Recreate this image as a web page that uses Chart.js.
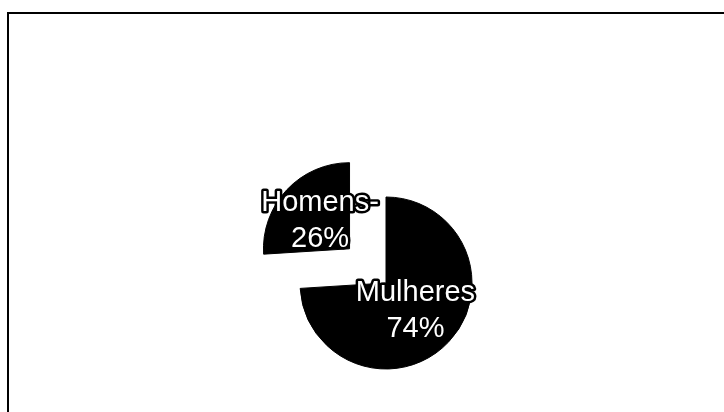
<!DOCTYPE html>
<html>
<head>
<meta charset="utf-8">
<script src="https://cdn.jsdelivr.net/npm/chart.js@4.4.0/dist/chart.umd.min.js"></script>
<style>
  body { margin: 0; background: #fff; }
  #wrap { width: 724px; height: 412px; position: relative; }
</style>
</head>
<body>
<div id="wrap"><canvas id="myChartPie"></canvas></div>
<script>
const categories = ["Mulheres", "Homens-"];
const values = [74, 26];
const offsets = [0, 200];

const ctxPie = document.getElementById('myChartPie');

// frame like the scanned box: left and top rule
const framePlugin = {
  id: 'frame',
  beforeDraw(chart) {
    const c = chart.ctx;
    c.save();
    c.strokeStyle = '#000';
    c.lineWidth = 2;
    c.beginPath();
    c.moveTo(8, 412);
    c.lineTo(8, 13);
    c.lineTo(724, 13);
    c.stroke();
    c.restore();
  }
};

// white labels with black outline, inside each slice
const sliceLabels = {
  id: 'sliceLabels',
  afterDatasetsDraw(chart) {
    const c = chart.ctx;
    const meta = chart.getDatasetMeta(0);
    const total = values.reduce((a, b) => a + b, 0);
    c.save();
    c.font = '29px "Liberation Sans", Arial, sans-serif';
    c.textAlign = 'center';
    c.textBaseline = 'middle';
    c.lineJoin = 'round';
    meta.data.forEach((arc, i) => {
      const p = arc.getProps(['x', 'y', 'startAngle', 'endAngle', 'outerRadius']);
      const mid = (p.startAngle + p.endAngle) / 2;
      const shift = offsets[i] / 4 + p.outerRadius * 0.47;
      const x = p.x + Math.cos(mid) * shift;
      const y = p.y + Math.sin(mid) * shift;
      const pct = Math.round(values[i] / total * 100) + '%';
      [[categories[i], y - 18], [pct, y + 18]].forEach(([t, ty]) => {
        c.strokeStyle = '#000';
        c.lineWidth = 5;
        c.strokeText(t, x, ty);
        c.fillStyle = '#fff';
        c.fillText(t, x, ty);
      });
    });
    c.restore();
  }
};

new Chart(ctxPie, {
  type: 'pie',
  data: {
    labels: categories,
    datasets: [{
      data: values,
      backgroundColor: '#000',
      borderColor: '#000',
      borderWidth: 1,
      offset: offsets
    }]
  },
  options: {
    responsive: true,
    maintainAspectRatio: false,
    animation: false,
    radius: 86,
    layout: {
      padding: { left: 60, right: 12, top: 170, bottom: 16 }
    },
    plugins: {
      legend: { display: false },
      tooltip: { enabled: false }
    }
  },
  plugins: [framePlugin, sliceLabels]
});
</script>
</body>
</html>
